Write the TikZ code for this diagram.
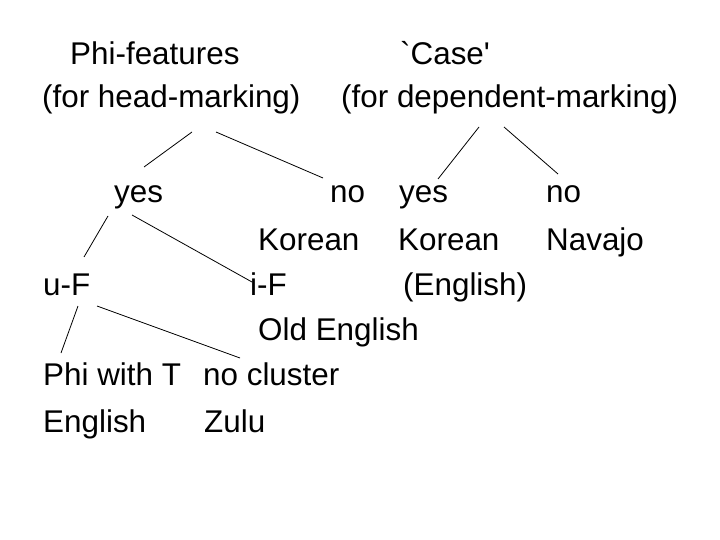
\documentclass[tikz,border=0pt]{standalone}
\usepackage{fontspec}
\setmainfont{Liberation Sans}[Ligatures=TeXOff]
\begin{document}
\begin{tikzpicture}[x=1pt,y=-1pt,
  lbl/.style={anchor=base west,inner sep=0pt,font=\fontsize{31.4}{36}\selectfont},
  conn/.style={draw=black,line width=0.8pt}]
\useasboundingbox[fill=white] (0,0) rectangle (720,540);
\node[lbl] (phi) at (70,65) {Phi-features};
\node[lbl] (head) at (42,108) {(for head-marking)};
\node[lbl] (case) at (400,65) {`Case'};
\node[lbl] (dep) at (341,108) {(for dependent-marking)};
\node[lbl] (yes1) at (114,203) {yes};
\node[lbl] (no1) at (330,203) {no};
\node[lbl] (yes2) at (399,203) {yes};
\node[lbl] (no2) at (546,203) {no};
\node[lbl] (kor1) at (258,250) {Korean};
\node[lbl] (kor2) at (398,250) {Korean};
\node[lbl] (nav) at (546,250) {Navajo};
\node[lbl] (uf) at (43,295) {u-F};
\node[lbl] (iF) at (250,295) {i-F};
\node[lbl] (engp) at (403,295) {(English)};
\node[lbl] (old) at (258,340) {Old English};
\node[lbl] (phiT) at (43,385) {Phi with T};
\node[lbl] (nocl) at (203,385) {no cluster};
\node[lbl] (eng) at (43,432) {English};
\node[lbl] (zulu) at (204,432) {Zulu};
\draw[conn] ([shift={(150,24)}]head.base west) -- ([shift={(30,-36)}]yes1.base west);
\draw[conn] ([shift={(174,24)}]head.base west) -- ([shift={(-7,-25)}]no1.base west);
\draw[conn] ([shift={(138,19)}]dep.base west) -- ([shift={(39,-24)}]yes2.base west);
\draw[conn] ([shift={(163,19)}]dep.base west) -- ([shift={(12,-29)}]no2.base west);
\draw[conn] ([shift={(-6,13)}]yes1.base west) -- ([shift={(41,-38)}]uf.base west);
\draw[conn] ([shift={(18,12)}]yes1.base west) -- ([shift={(2,-13)}]iF.base west);
\draw[conn] ([shift={(35,11)}]uf.base west) -- ([shift={(18,-32)}]phiT.base west);
\draw[conn] ([shift={(54,11)}]uf.base west) -- ([shift={(37,-27)}]nocl.base west);
\end{tikzpicture}
\end{document}
